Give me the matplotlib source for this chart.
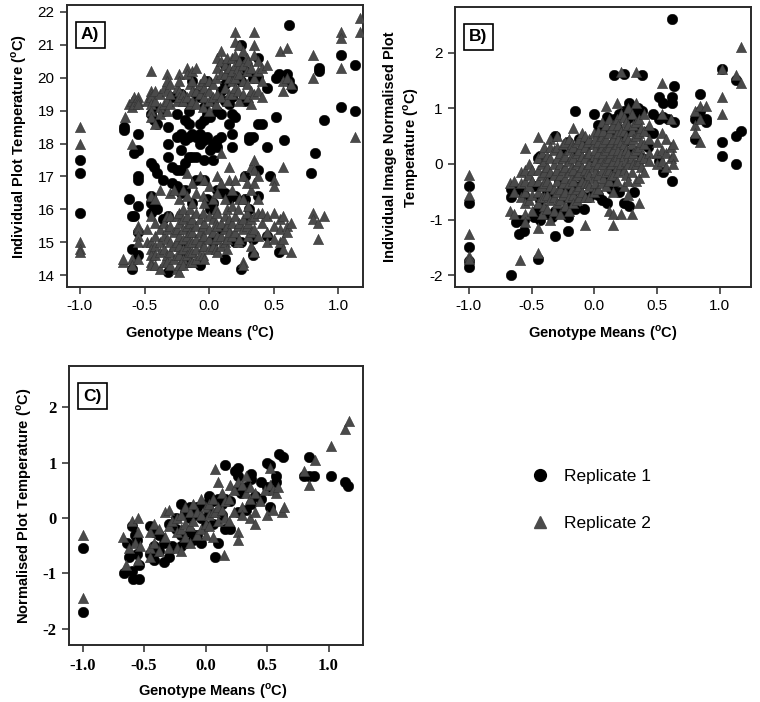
import matplotlib
matplotlib.use("Agg")
import matplotlib.pyplot as plt
from matplotlib.lines import Line2D

plt.rcParams['font.family'] = ['Liberation Sans', 'DejaVu Sans']
plt.rcParams['mathtext.fontset'] = 'custom'
plt.rcParams['mathtext.bf'] = 'Liberation Sans:bold'
plt.rcParams['mathtext.rm'] = 'Liberation Sans'

# ---------------- data: (genotype mean, [plot values]) ----------------
# Panel A - individual plot temperature
a_rep1 = [
    (-1.0, [17.5, 17.1, 15.9]), (-0.66, [18.5, 18.4]), (-0.62, [16.3]),
    (-0.60, [15.8, 14.8, 14.2]), (-0.58, [17.7, 15.8]),
    (-0.55, [17.8, 18.3, 16.9, 17.0, 16.1, 15.3, 14.6]),
    (-0.45, [18.9, 17.4, 16.4, 16.2, 15.9]), (-0.43, [19.1, 18.7, 17.3, 16.1]),
    (-0.40, [18.6, 17.1, 16.0]), (-0.36, [19.0, 16.9, 15.7]),
    (-0.32, [18.5, 18.0, 17.6, 15.8, 14.1]), (-0.29, [19.4, 17.3, 16.8]),
    (-0.25, [18.9, 18.2, 17.2, 16.7]), (-0.22, [19.5, 18.3, 17.8, 17.2, 16.5, 15.0]),
    (-0.19, [19.3, 18.7, 18.1, 17.4, 16.6, 14.7]), (-0.16, [19.0, 18.6, 18.2, 17.6, 15.4, 14.4]),
    (-0.13, [19.9, 19.2, 18.3, 17.6, 16.2]), (-0.10, [19.5, 18.2, 17.6, 16.9]),
    (-0.07, [19.4, 18.6, 18.3, 18.0, 14.3]), (-0.04, [19.1, 18.7, 18.1, 17.5, 16.9]),
    (-0.02, [19.9, 18.9, 18.2, 16.3]), (0.01, [18.8, 17.8, 16.0]),
    (0.03, [19.3, 18.0, 17.5, 16.2, 15.0]), (0.06, [19.0, 18.1, 17.9, 16.6]),
    (0.09, [19.6, 18.9, 18.2, 16.5, 15.4]), (0.12, [20.4, 19.8, 19.3, 16.5, 14.5]),
    (0.15, [20.1, 19.2, 18.6, 16.3]), (0.18, [19.4, 18.9, 18.3, 17.9]),
    (0.20, [18.8, 16.4, 15.0]), (0.25, [21.0, 20.5, 19.9, 15.0, 14.2]),
    (0.28, [20.2, 19.3, 17.0, 16.3]), (0.31, [18.1, 18.2, 15.7, 16.0]),
    (0.34, [18.2, 20.0, 15.1, 14.6]), (0.38, [20.6, 20.0, 18.6, 17.2, 16.4]),
    (0.41, [18.6]), (0.45, [19.7, 17.9, 15.2]), (0.47, [17.0]),
    (0.52, [20.0, 18.8]), (0.54, [20.1, 14.7]), (0.58, [18.1]), (0.60, [20.1]),
    (0.62, [21.6, 19.9]), (0.64, [19.7]), (0.79, [17.1]), (0.82, [17.7]),
    (0.85, [20.3, 20.2]), (0.89, [18.7]), (1.02, [20.7, 19.1]), (1.13, [20.4, 19.0]),
]
a_rep2 = [
    (-1.0, [18.5, 18.0, 15.0, 14.8, 14.7]), (-0.67, [14.4, 14.5]), (-0.65, [18.8]),
    (-0.62, [19.2]), (-0.60, [19.3, 19.1, 18.0, 14.5, 14.3]), (-0.58, [19.4, 19.2]),
    (-0.55, [19.4, 19.3, 19.2, 15.5, 15.4, 15.2, 15.0, 14.5]),
    (-0.48, [19.3, 15.4, 15.0]),
    (-0.45, [20.2, 19.6, 19.5, 19.4, 19.2, 19.0, 18.8, 16.4, 15.8, 15.0, 14.8, 14.6, 14.4, 14.3]),
    (-0.42, [19.6, 19.3, 18.6, 16.3, 15.6, 15.2, 14.9, 14.6, 14.3]),
    (-0.38, [19.5, 19.1, 18.9, 16.6, 15.4, 15.0, 14.7, 14.2]),
    (-0.35, [19.7, 19.2, 15.6, 15.2, 14.8, 14.4]),
    (-0.33, [20.1, 19.9, 19.6, 19.3, 19.0, 15.8, 15.4, 15.1, 14.6, 14.4]),
    (-0.30, [19.8, 19.5, 19.2, 16.5, 15.8, 15.5, 15.0, 14.7, 14.3]),
    (-0.27, [16.6, 15.3, 14.9, 14.5]),
    (-0.25, [19.7, 19.3, 15.8, 15.4, 15.0, 14.6, 14.2]),
    (-0.23, [20.1, 19.9, 19.6, 19.4, 16.3, 15.9, 15.6, 15.2, 14.9, 14.6, 14.3, 14.1]),
    (-0.20, [19.5, 19.3, 16.6, 16.0, 15.7, 15.4, 15.1, 14.8, 14.5, 14.3]),
    (-0.17, [20.3, 20.1, 19.4, 17.1, 16.4, 15.8, 15.5, 15.2, 14.9, 14.6]),
    (-0.15, [19.8, 19.2, 16.0, 15.6, 15.3, 15.0, 14.7, 14.4]),
    (-0.13, [20.2, 19.9, 19.6, 19.3, 16.8, 16.2, 15.7, 15.3, 15.0, 14.7, 14.4]),
    (-0.10, [20.3, 19.6, 19.2, 16.5, 15.9, 15.5, 15.1, 14.8, 14.5]),
    (-0.07, [19.8, 19.5, 17.0, 15.7, 15.3, 15.0, 14.6]),
    (-0.05, [19.9, 19.1, 16.4, 15.9, 15.5, 15.2, 14.9, 14.6]),
    (-0.04, [20.0, 19.7, 19.4, 16.9, 16.2, 15.6, 15.2, 14.9, 14.5]),
    (0.00, [19.9, 19.6, 19.3, 19.0, 16.7, 15.8, 15.4, 15.1, 14.8]),
    (0.03, [19.8, 19.4, 16.3, 15.7, 15.3, 14.9]),
    (0.05, [20.0, 19.2, 16.0, 15.6, 15.1, 14.8]),
    (0.06, [20.6, 20.3, 19.5, 17.0, 16.5, 15.9, 15.5, 15.2, 14.7]),
    (0.09, [20.8, 20.5, 20.1, 19.4, 17.7, 16.8, 15.6, 15.2, 14.9]),
    (0.12, [20.4, 20.1, 19.7, 16.3, 15.8, 15.4, 15.0]),
    (0.14, [20.6, 19.3, 16.0, 15.5, 15.1, 14.8]),
    (0.15, [20.3, 20.0, 19.5, 17.3, 16.9, 15.7, 15.3]),
    (0.18, [20.6, 20.2, 19.9, 19.5, 16.6, 16.1, 15.6, 15.2]),
    (0.20, [21.4, 21.1, 20.7, 20.4, 20.0, 19.7, 16.9, 15.8, 15.3]),
    (0.22, [20.3, 19.6, 16.0, 15.5, 15.0]),
    (0.23, [21.0, 20.5, 20.1, 19.3, 16.3, 15.6, 15.1]),
    (0.26, [20.8, 20.4, 19.9, 19.5, 17.0, 16.3, 15.7, 15.4, 14.4, 14.3]),
    (0.29, [20.6, 20.2, 19.8, 16.8, 15.9, 15.5]),
    (0.30, [20.5, 19.4, 16.1, 15.6, 15.2]),
    (0.32, [20.3, 19.6, 19.2, 17.3, 16.6, 15.7, 15.3, 14.9]),
    (0.35, [21.4, 21.0, 20.7, 20.0, 19.5, 17.5, 17.2, 16.8, 15.8, 15.4, 14.7]),
    (0.38, [20.5, 20.2, 19.6, 17.0, 16.3, 15.9, 15.2]),
    (0.41, [20.3, 19.9, 19.4, 15.9, 15.6]), (0.45, [20.4, 15.8, 15.3, 15.0]),
    (0.50, [16.9, 16.7, 15.9, 15.5, 15.1]), (0.55, [20.8, 15.7, 15.4, 15.0]),
    (0.57, [19.9, 19.6, 17.3, 15.8, 15.1, 14.8]), (0.60, [20.9, 20.0, 15.5, 15.3]),
    (0.63, [19.8, 15.6, 14.7]), (0.80, [20.7, 20.0, 15.9, 15.7]),
    (0.84, [15.6, 15.1]), (0.89, [15.8]), (1.02, [21.4, 21.2, 20.3]),
    (1.13, [18.2]), (1.17, [21.8, 21.4]),
]

# Panel B - individual image normalised plot temperature
b_rep1 = [
    (-1.0, [-0.4, -0.7, -1.5, -1.75, -1.85]), (-0.66, [-0.6, -0.45, -2.0]),
    (-0.62, [-1.05]), (-0.60, [-0.45, -1.0, -1.25]), (-0.56, [-0.55, -1.2, -1.0]),
    (-0.48, [-0.4, -0.95]),
    (-0.45, [0.1, -0.8, -1.7]), (-0.43, [0.15, -0.65, -1.0]), (-0.38, [-0.2, -0.5, -0.9]),
    (-0.34, [-0.95, -0.55]), (-0.31, [0.5, -0.85, -1.3]), (-0.28, [-0.3]),
    (-0.26, [0.2, -0.45]),
    (-0.24, [-0.6, -0.85]), (-0.21, [0.4, -0.95, -1.2]), (-0.18, [-0.5, -0.7]),
    (-0.15, [0.95, 0.2, -0.4, -0.8]), (-0.12, [0.45, -0.2]), (-0.09, [0.3, -0.35]),
    (-0.08, [-0.6, -0.8]),
    (-0.04, [0.35, -0.6]), (0.00, [0.9, 0.1, -0.5]), (0.03, [0.7, -0.55]),
    (0.05, [0.6, 0.2]),
    (0.06, [0.55, -0.65]), (0.10, [0.85, 0.3, -0.2, -0.7]), (0.13, [0.6, -0.05, -0.45]),
    (0.16, [1.6, 0.8, 0.4, -0.35]), (0.18, [0.65, -0.1]), (0.20, [0.9, 0.5, -0.5]),
    (0.24, [1.62, 0.95, 0.4, -0.7]), (0.26, [0.8, 0.2]),
    (0.28, [1.1, 0.6, -0.75]), (0.32, [0.85, 0.2, -0.5]), (0.33, [0.95, 0.6]),
    (0.35, [1.0, 0.55]),
    (0.38, [1.6, 0.95, 0.1]), (0.43, [0.6, 0.3]), (0.47, [0.9, 0.55]),
    (0.52, [1.2, 0.8, 0.05]), (0.55, [1.1, 0.85, -0.15]), (0.59, [0.8]),
    (0.62, [2.6, 1.2, 1.1, -0.3]), (0.64, [1.4, 0.75]), (0.80, [0.8, 0.45]),
    (0.84, [1.25, 0.95]), (0.89, [0.8, 0.75]), (1.02, [1.7, 0.4, 0.15]),
    (1.13, [1.5, 0.5, 0.0]), (1.17, [0.6]),
]
b_rep2 = [
    (-1.0, [-0.2, -0.55, -1.25, -1.65, -1.7]), (-0.67, [-0.35, -0.85]),
    (-0.64, [-0.3, -0.5, -0.9]), (-0.59, [-1.73]), (-0.58, [-0.15, -0.35, -0.6]),
    (-0.55, [0.28, -0.1, -0.3, -0.5, -0.7, -0.9, -1.05]),
    (-0.52, [0.0, -0.2, -0.4, -0.65]),
    (-0.50, [-0.1, -0.3, -0.55, -0.85]),
    (-0.45, [0.48, 0.1, -0.1, -0.3, -0.5, -0.7, -1.15, -1.6]),
    (-0.42, [0.2, 0.0, -0.2, -0.4, -0.6, -0.9]),
    (-0.40, [0.3, 0.05, -0.15, -0.35, -0.6, -0.75]),
    (-0.38, [0.15, -0.05, -0.3, -0.55, -0.8]),
    (-0.35, [0.45, 0.3, 0.1, -0.15, -0.4, -0.65, -1.0]),
    (-0.32, [0.25, 0.0, -0.2, -0.45, -0.6, -0.85]),
    (-0.30, [0.5, 0.3, 0.1, -0.1, -0.3, -0.5, -0.7]),
    (-0.27, [0.2, 0.0, -0.2, -0.45, -0.65, -0.9]),
    (-0.25, [0.35, 0.1, -0.1, -0.35, -0.55]),
    (-0.23, [0.4, 0.15, -0.05, -0.25, -0.5, -0.75]),
    (-0.20, [0.45, 0.25, 0.05, -0.15, -0.35, -0.6, -0.85]),
    (-0.18, [0.35, 0.15, -0.05, -0.25, -0.45]),
    (-0.17, [0.65, 0.3, 0.1, -0.1, -0.3, -0.55, -0.7]),
    (-0.14, [0.4, 0.2, 0.0, -0.2, -0.45, -0.65]),
    (-0.12, [0.45, 0.25, 0.05, -0.15, -0.4, -0.6]),
    (-0.10, [0.55, 0.35, 0.15, -0.05, -0.3, -0.5]),
    (-0.07, [0.5, 0.3, 0.1, -0.1, -0.35, -0.6, -1.1]),
    (-0.05, [0.4, 0.2, 0.0, -0.15, -0.35]),
    (-0.04, [0.45, 0.2, 0.0, -0.2, -0.4, -0.6]),
    (0.00, [0.55, 0.35, 0.15, -0.05, -0.25, -0.5]),
    (0.01, [0.45, 0.25, 0.05, -0.15, -0.35]),
    (0.03, [0.6, 0.4, 0.2, 0.0, -0.2, -0.45]),
    (0.06, [0.75, 0.5, 0.3, 0.1, -0.1, -0.35]),
    (0.07, [0.6, 0.4, 0.2, 0.0, -0.25]),
    (0.09, [1.05, 0.7, 0.45, 0.25, 0.05, -0.15, -0.4]),
    (0.12, [0.8, 0.55, 0.3, 0.1, -0.1, -0.3, -0.85]),
    (0.13, [0.65, 0.4, 0.2, 0.0, -0.2]),
    (0.15, [0.7, 0.45, 0.25, 0.05, -0.2, -0.5, -0.9, -1.1]),
    (0.18, [1.1, 0.8, 0.55, 0.35, 0.15, -0.05, -0.3]),
    (0.19, [0.7, 0.45, 0.25, 0.05, -0.15]),
    (0.21, [1.65, 0.9, 0.6, 0.4, 0.2, 0.0, -0.9]),
    (0.24, [0.85, 0.6, 0.35, 0.15, -0.1, -0.4]),
    (0.25, [0.75, 0.5, 0.25, 0.05, -0.2]),
    (0.27, [1.0, 0.7, 0.45, 0.2, 0.0, -0.3, -0.55]),
    (0.30, [0.9, 0.6, 0.35, 0.1, -0.15, -0.9]),
    (0.31, [0.7, 0.45, 0.2, 0.0]),
    (0.33, [1.65, 1.1, 0.75, 0.5, 0.25, 0.0, -0.3]),
    (0.36, [0.8, 0.55, 0.3, 0.05, -0.25, -0.7]),
    (0.37, [0.65, 0.4, 0.15, -0.05]),
    (0.40, [0.9, 0.6, 0.35, 0.1, -0.15]), (0.44, [0.7, 0.45, 0.2, 0.05]),
    (0.50, [0.4, 0.2, 0.0]), (0.54, [1.45, 0.9, 0.55, 0.25, 0.05]),
    (0.57, [0.45, 0.2, -0.05]), (0.61, [0.8, 0.3, 0.1]), (0.63, [0.35, 0.15, 0.0]),
    (0.80, [0.95, 0.7, 0.55]), (0.84, [1.05, 0.8, 0.4]), (0.89, [1.05]),
    (1.02, [1.7, 1.2, 0.9]), (1.13, [1.6]), (1.17, [2.1, 1.45]),
]

# Panel C - normalised plot temperature
c_rep1 = [
    (-1.0, [-0.55, -1.7]), (-0.66, [-1.0]), (-0.64, [-0.45]), (-0.62, [-0.7]),
    (-0.60, [-0.15, -0.95]), (-0.59, [-1.1]), (-0.57, [-0.3]), (-0.56, [-0.4, -0.65]),
    (-0.54, [-0.85, -1.1]), (-0.45, [-0.15, -0.65]), (-0.42, [-0.5, -0.25, -0.75]),
    (-0.38, [-0.3, -0.6]), (-0.34, [-0.8, -0.45]), (-0.30, [-0.1, -0.7]),
    (-0.27, [-0.5]), (-0.24, [-0.2, 0.0]), (-0.20, [0.25, -0.3, -0.5]),
    (-0.17, [0.1, -0.45]), (-0.13, [0.2, -0.25, 0.0]), (-0.10, [0.05, -0.4]),
    (-0.07, [0.2, -0.3]), (-0.04, [-0.45, 0.0]), (0.00, [0.25, -0.15]),
    (0.03, [0.4, 0.1]), (0.06, [0.3, -0.1]), (0.08, [-0.7]), (0.10, [-0.45, 0.35]),
    (0.13, [0.25, 0.05]), (0.16, [0.95, 0.35, -0.2]), (0.20, [0.3, -0.2]),
    (0.24, [0.85]), (0.26, [0.9, 0.75, 0.5, 0.1]), (0.29, [0.45]), (0.33, [0.55, 0.15]),
    (0.37, [0.8, 0.7, 0.25]), (0.40, [0.4]), (0.45, [0.35, 0.65]), (0.50, [1.0, 0.55]),
    (0.52, [0.95, 0.2]), (0.57, [0.75, 0.65]), (0.60, [1.15]), (0.63, [1.1]),
    (0.80, [0.75]), (0.84, [1.1, 0.75]), (0.88, [0.75]), (1.02, [0.75]),
    (1.13, [0.65]), (1.16, [0.58]),
]
c_rep2 = [
    (-1.0, [-0.3, -1.45]), (-0.67, [-0.35]), (-0.65, [-0.85]), (-0.62, [-0.55]),
    (-0.60, [-0.05]), (-0.57, [-0.45]), (-0.55, [0.0, -0.25, -0.75]), (-0.53, [-0.5]),
    (-0.45, [-0.25, -0.55, -0.7]), (-0.42, [-0.1, -0.45]), (-0.38, [-0.2, -0.6]),
    (-0.33, [0.1, -0.35]), (-0.30, [0.15, -0.15, -0.55]), (-0.27, [-0.05]),
    (-0.23, [-0.25, 0.0, -0.55]), (-0.20, [0.05, -0.2, -0.6]), (-0.17, [0.2, -0.1, -0.35]),
    (-0.13, [0.1, -0.15, -0.45]), (-0.10, [-0.05, 0.25]), (-0.07, [-0.3, 0.1]),
    (-0.04, [0.35, 0.05, -0.2]), (0.00, [0.2, -0.1, -0.3]), (0.03, [0.25, 0.05, -0.15]),
    (0.06, [0.35, 0.1, -0.35]), (0.08, [0.88, 0.1]), (0.10, [0.65, 0.2, -0.05]),
    (0.13, [0.45, 0.15]), (0.15, [-0.67]), (0.16, [0.3, 0.0]), (0.19, [0.35, -0.05]),
    (0.20, [0.6]), (0.23, [0.5, 0.1]), (0.26, [-0.25, -0.4, 0.65]), (0.30, [0.6, 0.2, 0.05]),
    (0.33, [0.75, 0.45]), (0.36, [0.55, 0.35, 0.0]), (0.40, [0.45, 0.1, -0.1]),
    (0.44, [0.3]), (0.48, [0.5]), (0.50, [0.05]), (0.52, [0.9, 0.6]), (0.55, [0.5, 0.15]),
    (0.57, [0.45]), (0.59, [0.55]), (0.62, [0.1]), (0.64, [0.2]), (0.80, [0.85]),
    (0.84, [0.6]), (0.89, [1.05]), (1.02, [1.3]), (1.13, [1.6]), (1.17, [1.75]),
]

x_ticks = [-1.0, -0.5, 0.0, 0.5, 1.0]
a_yticks = [14, 15, 16, 17, 18, 19, 20, 21, 22]
bc_yticks = [-2, -1, 0, 1, 2]
xlabel = r'Genotype Means ($^{\mathbf{o}}$C)'
a_ylabel = r'Individual Plot Temperature ($^{\mathbf{o}}$C)'
b_ylabel = 'Individual Image Normalised Plot\n' + r'Temperature ($^{\mathbf{o}}$C)'
c_ylabel = r'Normalised Plot Temperature ($^{\mathbf{o}}$C)'
legend_labels = ['Replicate 1', 'Replicate 2']


def flat(groups):
    xs, ys = [], []
    for gx, vals in groups:
        for v in vals:
            xs.append(gx)
            ys.append(v)
    return xs, ys


CIRC = dict(marker='o', s=58, color='black', edgecolors='black', linewidths=0.3, zorder=3)
TRI = dict(marker='^', s=54, color='#4a4a4a', edgecolors='#333333', linewidths=0.4, zorder=4)

fig = plt.figure(figsize=(7.6, 7.02), dpi=100)
W, H = 760.0, 702.0


def make_ax(l, r, t, b):
    return fig.add_axes([l / W, 1 - b / H, (r - l) / W, (b - t) / H])


axA = make_ax(67, 363, 5, 287)
axB = make_ax(455, 751, 7, 287)
axC = make_ax(69, 363, 366, 645)

panels = [
    (axA, a_rep1, a_rep2, (-1.10, 1.19), (13.64, 22.21), a_yticks, a_ylabel, 'A)', 0.45),
    (axB, b_rep1, b_rep2, (-1.11, 1.25), (-2.21, 2.82), bc_yticks, b_ylabel, 'B)', 0.5),
    (axC, c_rep1, c_rep2, (-1.11, 1.28), (-2.29, 2.74), bc_yticks, c_ylabel, 'C)', 0.49),
]

for ax, r1, r2, xl, yl, yt, ylab, tag, xlab_pos in panels:
    x1, y1 = flat(r1)
    x2, y2 = flat(r2)
    ax.scatter(x1, y1, **CIRC)
    ax.scatter(x2, y2, **TRI)
    ax.set_xlim(*xl)
    ax.set_ylim(*yl)
    ax.set_xticks(x_ticks)
    ax.set_xticklabels(['%.1f' % v for v in x_ticks])
    ax.set_yticks(yt)
    ax.set_yticklabels([str(v) for v in yt])
    for s in ax.spines.values():
        s.set_color('#2a2a2a')
        s.set_linewidth(1.4)
    ax.tick_params(direction='out', length=5, width=1.1, color='#2a2a2a', pad=4)
    ax.set_xlabel(xlabel, fontsize=10.5, fontweight='bold', labelpad=7)
    ax.xaxis.set_label_coords(xlab_pos, -0.13)
    ax.set_ylabel(ylab, fontsize=10.5, fontweight='bold', labelpad=6, linespacing=1.3)
    ax.annotate(tag, xy=(0, 1), xycoords='axes fraction', xytext=(14, -30),
                textcoords='offset pixels', fontsize=12.5, fontweight='bold',
                ha='left', va='center',
                bbox=dict(boxstyle='square,pad=0.3', fc='white', ec='black', lw=1.2))

for ax in (axA, axB):
    for lab in ax.get_xticklabels() + ax.get_yticklabels():
        lab.set_fontsize(11)
for lab in axC.get_xticklabels() + axC.get_yticklabels():
    lab.set_fontfamily('Liberation Serif')
    lab.set_fontweight('bold')
    lab.set_fontsize(12)

handles = [
    Line2D([], [], linestyle='none', marker='o', markersize=8.5, color='black'),
    Line2D([], [], linestyle='none', marker='^', markersize=8.5, color='#4a4a4a'),
]
fig.legend(handles, legend_labels, loc='upper left', bbox_to_anchor=(521 / W, 1 - 460 / H),
           frameon=False, fontsize=12.5, handletextpad=0.8, labelspacing=1.85,
           handlelength=1.2, borderpad=0)

fig.savefig('out.png', dpi=100, facecolor='white')
